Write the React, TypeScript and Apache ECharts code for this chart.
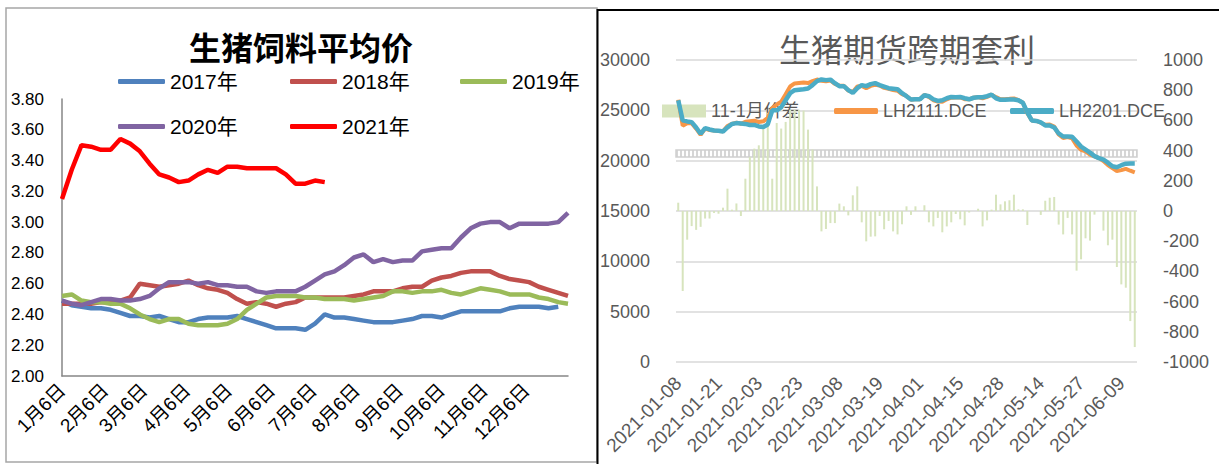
import React, { useEffect, useRef } from 'react';
import * as echarts from 'echarts';

// ---------- Left chart: 生猪饲料平均价 (weekly, days since 1月6日) ----------
const monthDays = [0, 31, 59, 90, 120, 151, 181, 212, 243, 273, 304, 334];
const monthLabels = ['1月6日', '2月6日', '3月6日', '4月6日', '5月6日', '6月6日', '7月6日', '8月6日', '9月6日', '10月6日', '11月6日', '12月6日'];
const feedYears = ['2017年', '2018年', '2019年', '2020年', '2021年'];
const feedColors = ['#4f81bd', '#c0504d', '#9bbb59', '#8064a2', '#ff0000'];
const feed2017 = [2.49, 2.46, 2.45, 2.44, 2.44, 2.43, 2.41, 2.39, 2.39, 2.38, 2.39, 2.37, 2.35, 2.35, 2.37, 2.38, 2.38, 2.38, 2.39, 2.37, 2.35, 2.33, 2.31, 2.31, 2.31, 2.30, 2.34, 2.40, 2.38, 2.38, 2.37, 2.36, 2.35, 2.35, 2.35, 2.36, 2.37, 2.39, 2.39, 2.38, 2.40, 2.42, 2.42, 2.42, 2.42, 2.42, 2.44, 2.45, 2.45, 2.45, 2.44, 2.45];
const feed2018 = [2.47, 2.47, 2.47, 2.47, 2.48, 2.48, 2.49, 2.51, 2.60, 2.59, 2.58, 2.59, 2.60, 2.62, 2.59, 2.57, 2.56, 2.54, 2.50, 2.47, 2.48, 2.47, 2.45, 2.47, 2.48, 2.51, 2.51, 2.51, 2.51, 2.51, 2.52, 2.53, 2.55, 2.55, 2.55, 2.57, 2.58, 2.58, 2.62, 2.64, 2.65, 2.67, 2.68, 2.68, 2.68, 2.65, 2.63, 2.62, 2.61, 2.58, 2.56, 2.54, 2.52];
const feed2019 = [2.52, 2.53, 2.49, 2.48, 2.48, 2.47, 2.47, 2.44, 2.40, 2.37, 2.35, 2.37, 2.37, 2.34, 2.33, 2.33, 2.33, 2.34, 2.37, 2.43, 2.47, 2.51, 2.52, 2.52, 2.52, 2.51, 2.51, 2.50, 2.50, 2.50, 2.49, 2.50, 2.51, 2.52, 2.55, 2.55, 2.54, 2.55, 2.55, 2.56, 2.54, 2.53, 2.55, 2.57, 2.56, 2.55, 2.53, 2.53, 2.53, 2.51, 2.50, 2.48, 2.47];
const feed2020 = [2.49, 2.47, 2.46, 2.48, 2.50, 2.50, 2.49, 2.49, 2.50, 2.52, 2.57, 2.61, 2.61, 2.61, 2.60, 2.61, 2.59, 2.59, 2.58, 2.58, 2.55, 2.54, 2.55, 2.55, 2.55, 2.58, 2.62, 2.66, 2.68, 2.72, 2.77, 2.79, 2.74, 2.76, 2.74, 2.75, 2.75, 2.81, 2.82, 2.83, 2.83, 2.90, 2.96, 2.99, 3.00, 3.00, 2.96, 2.99, 2.99, 2.99, 2.99, 3.00, 3.06];
const feed2021 = [3.15, 3.34, 3.50, 3.49, 3.47, 3.47, 3.54, 3.51, 3.46, 3.38, 3.31, 3.29, 3.26, 3.27, 3.31, 3.34, 3.32, 3.36, 3.36, 3.35, 3.35, 3.35, 3.35, 3.31, 3.25, 3.25, 3.27, 3.26];
const feedSeries = [feed2017, feed2018, feed2019, feed2020, feed2021];
const DAYS_PER_WEEK = 7;

// ---------- Right chart: 生猪期货跨期套利 ----------
const futuresDates = [
  '2021-01-08', '2021-01-11', '2021-01-12', '2021-01-13', '2021-01-14', '2021-01-15', '2021-01-18', '2021-01-19', '2021-01-20', '2021-01-21',
  '2021-01-22', '2021-01-25', '2021-01-26', '2021-01-27', '2021-01-28', '2021-01-29', '2021-02-01', '2021-02-02', '2021-02-03', '2021-02-04',
  '2021-02-05', '2021-02-08', '2021-02-09', '2021-02-10', '2021-02-18', '2021-02-19', '2021-02-22', '2021-02-23', '2021-02-24', '2021-02-25',
  '2021-02-26', '2021-03-01', '2021-03-02', '2021-03-03', '2021-03-04', '2021-03-05', '2021-03-08', '2021-03-09', '2021-03-10', '2021-03-11',
  '2021-03-12', '2021-03-15', '2021-03-16', '2021-03-17', '2021-03-18', '2021-03-19', '2021-03-22', '2021-03-23', '2021-03-24', '2021-03-25',
  '2021-03-26', '2021-03-29', '2021-03-30', '2021-03-31', '2021-04-01', '2021-04-02', '2021-04-06', '2021-04-07', '2021-04-08', '2021-04-09',
  '2021-04-12', '2021-04-13', '2021-04-14', '2021-04-15', '2021-04-16', '2021-04-19', '2021-04-20', '2021-04-21', '2021-04-22', '2021-04-23',
  '2021-04-26', '2021-04-27', '2021-04-28', '2021-04-29', '2021-04-30', '2021-05-06', '2021-05-07', '2021-05-10', '2021-05-11', '2021-05-12',
  '2021-05-13', '2021-05-14', '2021-05-17', '2021-05-18', '2021-05-19', '2021-05-20', '2021-05-21', '2021-05-24', '2021-05-25', '2021-05-26',
  '2021-05-27', '2021-05-28', '2021-05-31', '2021-06-01', '2021-06-02', '2021-06-03', '2021-06-04', '2021-06-07', '2021-06-08', '2021-06-09',
  '2021-06-10', '2021-06-11', '2021-06-15',
];
const spread11_1 = [
  55, -530, -190, -100, -125, -105, -50, -50, -13, -18,
  22, 148, 9, 50, -33, 214, 358, 413, 435, 557,
  650, 214, 583, 546, 590, 670, 670, 670, 665, 539,
  407, 163, -135, -119, -80, -80, 49, 31, -29, 104,
  163, -75, -201, -170, -168, -33, -121, -66, -135, -155,
  -88, 31, -26, 31, 0, 38, -75, -102, -46, -141,
  -102, -75, -20, -55, -95, -10, 0, 15, -102, -62,
  9, 108, 44, 64, 71, 108, 11, 11, -93, 0,
  0, -26, 68, 88, 93, -90, -155, -46, -155, -395,
  -320, -181, -196, -24, 0, -130, -227, -190, -371, -486,
  -508, -729, -901,
];
const lh2111 = [
  26050, 23470, 23710, 23730, 23180, 22570, 23180, 23050, 22990, 22950,
  22920, 23450, 23660, 23780, 23670, 23860, 23910, 23960, 23840, 23910,
  24250, 25210, 25580, 25850, 26590, 27370, 27670, 27720, 27770, 27710,
  27910, 28060, 27940, 27880, 27970, 27620, 27450, 27430, 26970, 26830,
  27360, 27430, 27200, 27430, 27530, 27470, 27230, 27130, 27020, 26950,
  26610, 26430, 26040, 26130, 26100, 26540, 26330, 26000, 25880, 25860,
  26100, 26260, 26280, 26280, 26110, 26090, 26250, 26320, 26200, 26340,
  26560, 26310, 26090, 26110, 26140, 26180, 26010, 25760, 24710, 24000,
  23950, 23770, 23570, 23590, 23390, 22610, 22250, 22350, 22220, 21510,
  21080, 20920, 20600, 20430, 20250, 19970, 19570, 19260, 18980, 19060,
  19190, 19000, 18830,
];
const lh2201 = [
  26000, 24000, 23900, 23830, 23300, 22670, 23230, 23100, 23000, 22970,
  22900, 23300, 23650, 23730, 23700, 23650, 23550, 23550, 23400, 23350,
  23600, 25000, 25000, 25300, 26000, 26700, 27000, 27050, 27100, 27170,
  27500, 27900, 28070, 28000, 28050, 27700, 27400, 27400, 27000, 26730,
  27200, 27500, 27400, 27600, 27700, 27500, 27350, 27200, 27150, 27100,
  26700, 26400, 26070, 26100, 26100, 26500, 26400, 26100, 25930, 26000,
  26200, 26330, 26300, 26330, 26200, 26100, 26250, 26300, 26300, 26400,
  26550, 26200, 26050, 26050, 26070, 26070, 26000, 25750, 24800, 24000,
  23950, 23800, 23500, 23500, 23300, 22700, 22400, 22400, 22370, 21900,
  21400, 21100, 20800, 20450, 20250, 20100, 19800, 19450, 19350, 19550,
  19700, 19730, 19730,
];
const futuresNames = ['11-1月价差', 'LH2111.DCE', 'LH2201.DCE'];

const FONT = '"Liberation Sans", "Noto Sans CJK SC", sans-serif';
const CJK = '"Noto Sans CJK SC", sans-serif';
const GRAY = '#595959';

export default function App() {
  const ref = useRef<HTMLDivElement>(null);
  useEffect(() => {
    if (!ref.current) return;
    const chart = echarts.init(ref.current, undefined, { renderer: 'svg' });

    const c = document.createElement('canvas');
    c.width = 4; c.height = 10;
    const ctx = c.getContext('2d');
    if (ctx) {
      ctx.fillStyle = '#ffffff'; ctx.fillRect(0, 0, 4, 10);
      ctx.fillStyle = '#d6d6d6'; ctx.fillRect(0, 0, 2, 10);
    }

    const leftLegendPos = [
      { left: 113, top: 66 }, { left: 285, top: 66 }, { left: 455, top: 66 },
      { left: 113, top: 111 }, { left: 285, top: 111 },
    ];
    const rightLegendPos = [
      { left: 657, top: 95, icon: 'rect', h: 13 },
      { left: 829, top: 95, icon: 'roundRect', h: 6 },
      { left: 1005, top: 95, icon: 'roundRect', h: 6 },
    ];

    const option: any = {
      animation: false,
      backgroundColor: '#ffffff',
      graphic: [
        { type: 'rect', shape: { x: 6, y: 8, width: 591, height: 454 }, style: { fill: 'none', stroke: '#a6a6a6', lineWidth: 1.5 }, silent: true, z: -10 },
        { type: 'line', shape: { x1: 597.5, y1: 9, x2: 597.5, y2: 464 }, style: { stroke: '#000', lineWidth: 2 }, silent: true },
        { type: 'line', shape: { x1: 597, y1: 10, x2: 1219, y2: 10 }, style: { stroke: '#000', lineWidth: 2 }, silent: true },
        { type: 'text', x: 301, y: 46, style: { text: '生猪饲料平均价', font: `bold 32px ${CJK}`, fill: '#000', align: 'center', verticalAlign: 'middle' }, silent: true },
        { type: 'text', x: 907, y: 48, style: { text: '生猪期货跨期套利', font: `32px ${CJK}`, fill: GRAY, align: 'center', verticalAlign: 'middle' }, silent: true },
      ],
      legend: [
        ...feedYears.map((name, i) => ({
          data: [name],
          left: leftLegendPos[i].left,
          top: leftLegendPos[i].top,
          icon: 'roundRect',
          itemWidth: 47,
          itemHeight: 5,
          itemGap: 0,
          textStyle: { fontSize: 21, color: '#000', fontFamily: FONT },
          selectedMode: false,
        })),
        ...futuresNames.map((name, i) => ({
          data: [name],
          left: rightLegendPos[i].left,
          top: rightLegendPos[i].top,
          icon: rightLegendPos[i].icon,
          itemWidth: 44,
          itemHeight: rightLegendPos[i].h,
          itemGap: 0,
          z: 0,
          textStyle: { fontSize: 18, color: GRAY, fontFamily: FONT, lineHeight: 22 },
          selectedMode: false,
        })),
      ],
      grid: [
        { left: 62, right: 651, top: 99, bottom: 88 },
        { left: 676, right: 82, top: 60, bottom: 102 },
      ],
      xAxis: [
        {
          type: 'value', gridIndex: 0, min: 0, max: 364,
          axisLine: { show: true, lineStyle: { color: '#868686', width: 1.5 } },
          axisTick: { show: false },
          splitLine: { show: false },
          axisLabel: {
            customValues: monthDays,
            rotate: 45,
            margin: 11,
            fontSize: 19,
            color: '#000',
            fontFamily: FONT,
            formatter: (v: number) => { const k = monthDays.indexOf(v); return k >= 0 ? monthLabels[k] : ''; },
          },
        },
        {
          type: 'category', gridIndex: 1, data: futuresDates, boundaryGap: true,
          axisLine: { show: false }, axisTick: { show: false },
          axisLabel: { interval: 8, rotate: 45, margin: 18, fontSize: 19, color: GRAY, fontFamily: FONT },
        },
      ],
      yAxis: [
        {
          type: 'value', gridIndex: 0, min: 2, max: 3.8, interval: 0.2,
          axisLine: { show: true, lineStyle: { color: '#868686', width: 1.5 } },
          axisTick: { show: false },
          splitLine: { show: false },
          axisLabel: { fontSize: 17, color: '#000', margin: 18, fontFamily: FONT, formatter: (v: number) => v.toFixed(2) },
        },
        {
          type: 'value', gridIndex: 1, min: 0, max: 30000, interval: 5000, position: 'left',
          axisLine: { show: false }, axisTick: { show: false },
          splitLine: { show: true, lineStyle: { color: '#d9d9d9', width: 1.5 } },
          axisLabel: { fontSize: 18, color: GRAY, margin: 26, fontFamily: FONT, formatter: (v: number) => String(v) },
        },
        {
          type: 'value', gridIndex: 1, min: -1000, max: 1000, interval: 200, position: 'right',
          axisLine: { show: false }, axisTick: { show: false },
          splitLine: { show: false },
          axisLabel: { fontSize: 18, color: GRAY, margin: 26, fontFamily: FONT, formatter: (v: number) => String(v) },
        },
      ],
      series: [
        ...feedYears.map((name, i) => ({
          name, type: 'line', xAxisIndex: 0, yAxisIndex: 0,
          data: feedSeries[i].map((v, k) => [k * DAYS_PER_WEEK, v]),
          symbol: 'none',
          lineStyle: { width: 4.5, color: feedColors[i] },
          itemStyle: { color: feedColors[i] },
          z: 2 + i,
        })),
        {
          name: futuresNames[0], type: 'bar', xAxisIndex: 1, yAxisIndex: 2,
          data: spread11_1, barWidth: 2,
          itemStyle: { color: '#d7e4bd' },
          z: 2,
          markArea: {
            silent: true,
            itemStyle: { color: { image: c, repeat: 'repeat' }, borderColor: '#d0d0d0', borderWidth: 1.5 },
            data: [[{ yAxis: 358 }, { yAxis: 404 }]],
          },
        },
        {
          name: futuresNames[1], type: 'line', xAxisIndex: 1, yAxisIndex: 1,
          data: lh2111, symbol: 'none',
          lineStyle: { width: 4, color: '#f79646' },
          itemStyle: { color: '#f79646' },
          z: 5,
        },
        {
          name: futuresNames[2], type: 'line', xAxisIndex: 1, yAxisIndex: 1,
          data: lh2201, symbol: 'none',
          lineStyle: { width: 4.5, color: '#4bacc6' },
          itemStyle: { color: '#4bacc6' },
          z: 6,
        },
      ],
    };
    chart.setOption(option);
    return () => chart.dispose();
  }, []);
  return <div ref={ref} style={{ position: 'absolute', left: 0, top: 0, width: 1219, height: 464, background: '#fff' }} />;
}
